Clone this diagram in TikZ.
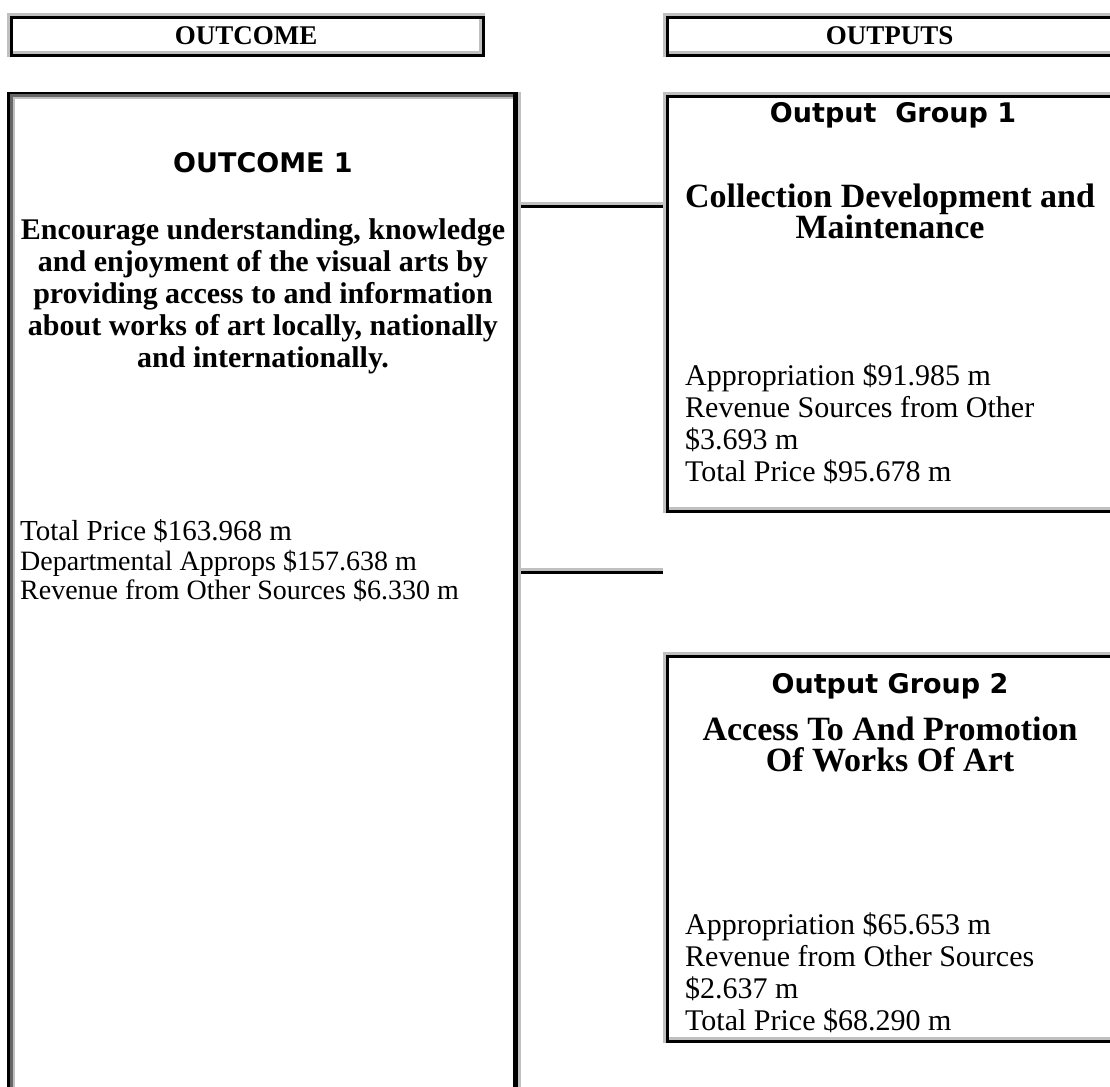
\documentclass[tikz,border=0pt]{standalone}
\usepackage{fontspec}
\setmainfont{Liberation Serif}
\newfontfamily\titlesans{DejaVu Sans}
\usetikzlibrary{calc}
\definecolor{lgrey}{RGB}{192,192,192}
\definecolor{dgrey}{RGB}{102,102,102}
\tikzset{
  boxnode/.style={draw=none, inner sep=0pt, anchor=north west},
  hdrtext/.style={font=\fontsize{27}{30}\selectfont\bfseries, inner sep=0pt},
  titletext/.style={font=\titlesans\fontsize{27}{30}\selectfont\bfseries, inner sep=0pt, text height=20pt, text depth=0pt},
  boldpara/.style={align=center, inner sep=0pt, anchor=north},
  bodytext/.style={align=left, inner sep=0pt, anchor=north west},
  conngrey/.style={draw=lgrey, line width=3pt},
  connblack/.style={draw=black, line width=3pt},
}
\newcommand{\bevelbox}[1]{%
  \fill[lgrey] (#1.north west) rectangle (#1.south east);
  \fill[black] ($(#1.north west)+(3,3)$) rectangle (#1.south east);
  \fill[lgrey] ($(#1.north west)+(6,6)$) rectangle ($(#1.south east)+(-3,-3)$);
  \fill[white] ($(#1.north west)+(6,6)$) rectangle ($(#1.south east)+(-6,-6)$);
}
\begin{document}
\begin{tikzpicture}[x=1pt,y=-1pt]
\useasboundingbox[fill=white] (0,0) rectangle (1110,1086);
\begin{scope}
\clip (0,0) rectangle (1110,1086);
% header boxes
\node[boxnode, minimum width=478pt, minimum height=44pt] (hdr1) at (7,13) {};
\node[boxnode, minimum width=453pt, minimum height=44pt] (hdr2) at (663,13) {};
\bevelbox{hdr1}
\bevelbox{hdr2}
\node[hdrtext] (hdr1t) at (hdr1.center) {OUTCOME};
\node[hdrtext] (hdr2t) at (hdr2.center) {OUTPUTS};

% outcome box
\node[boxnode, minimum width=514pt, minimum height=1003pt] (out1) at (7,92) {};
\fill[lgrey] (out1.north west) rectangle (out1.south east);
\fill[black] (out1.north west) rectangle ($(out1.south east)+(-3,0)$);
\fill[dgrey] ($(out1.north west)+(3,2)$) rectangle ($(out1.south east)+(-8,0)$);
\fill[lgrey] ($(out1.north west)+(6,5)$) rectangle ($(out1.south east)+(-8,0)$);
\fill[white] ($(out1.north west)+(8,7)$) rectangle ($(out1.south east)+(-8,0)$);

% output boxes
\node[boxnode, minimum width=453pt, minimum height=421pt] (og1) at (663,92) {};
\node[boxnode, minimum width=453pt, minimum height=391pt] (og2) at (663,652) {};
\bevelbox{og1}
\bevelbox{og2}

% connectors
\coordinate (c1g) at (0,203.5);
\coordinate (c1b) at (0,206.5);
\coordinate (c2g) at (0,569.5);
\coordinate (c2b) at (0,572.5);
\draw[conngrey] (out1.east |- c1g) -- (og1.west |- c1g);
\draw[connblack] (out1.east |- c1b) -- (og1.west |- c1b);
\draw[conngrey] (out1.east |- c2g) -- (og2.west |- c2g);
\draw[connblack] (out1.east |- c2b) -- (og2.west |- c2b);
\end{scope}

% outcome texts
\node[titletext] (o1title) at (263,162) {OUTCOME 1};
\node[boldpara, font=\fontsize{30}{32}\selectfont\bfseries] (o1desc) at (263,218) {Encourage understanding, knowledge\\and enjoyment of the visual arts by\\providing access to and information\\about works of art locally, nationally\\and internationally.};
\node[bodytext, font=\fontsize{29}{30}\selectfont] (o1tot) at (20,519) {Total Price \$163.968 m};
\node[bodytext, font=\fontsize{28}{29}\selectfont] (o1fig) at (20,550) {Departmental Approps \$157.638 m\\Revenue from Other Sources \$6.330 m};

% output group 1 texts
\node[titletext] (g1title) at (893,113) {Output\ \ Group 1};
\node[boldpara, font=\fontsize{34}{31}\selectfont\bfseries] (g1desc) at (890,184) {Collection Development and\\Maintenance};
\node[bodytext, font=\fontsize{30}{32}\selectfont] (g1fig) at (685,364) {Appropriation \$91.985 m\\Revenue Sources from Other\\\$3.693 m\\Total Price \$95.678 m};

% output group 2 texts
\node[titletext] (g2title) at (890,683) {Output Group 2};
\node[boldpara, font=\fontsize{34}{31}\selectfont\bfseries] (g2desc) at (890,717) {Access To And Promotion\\Of Works Of Art};
\node[bodytext, font=\fontsize{30}{32}\selectfont] (g2fig) at (685,913) {Appropriation \$65.653 m\\Revenue from Other Sources\\\$2.637 m\\Total Price \$68.290 m};
\end{tikzpicture}
\end{document}
